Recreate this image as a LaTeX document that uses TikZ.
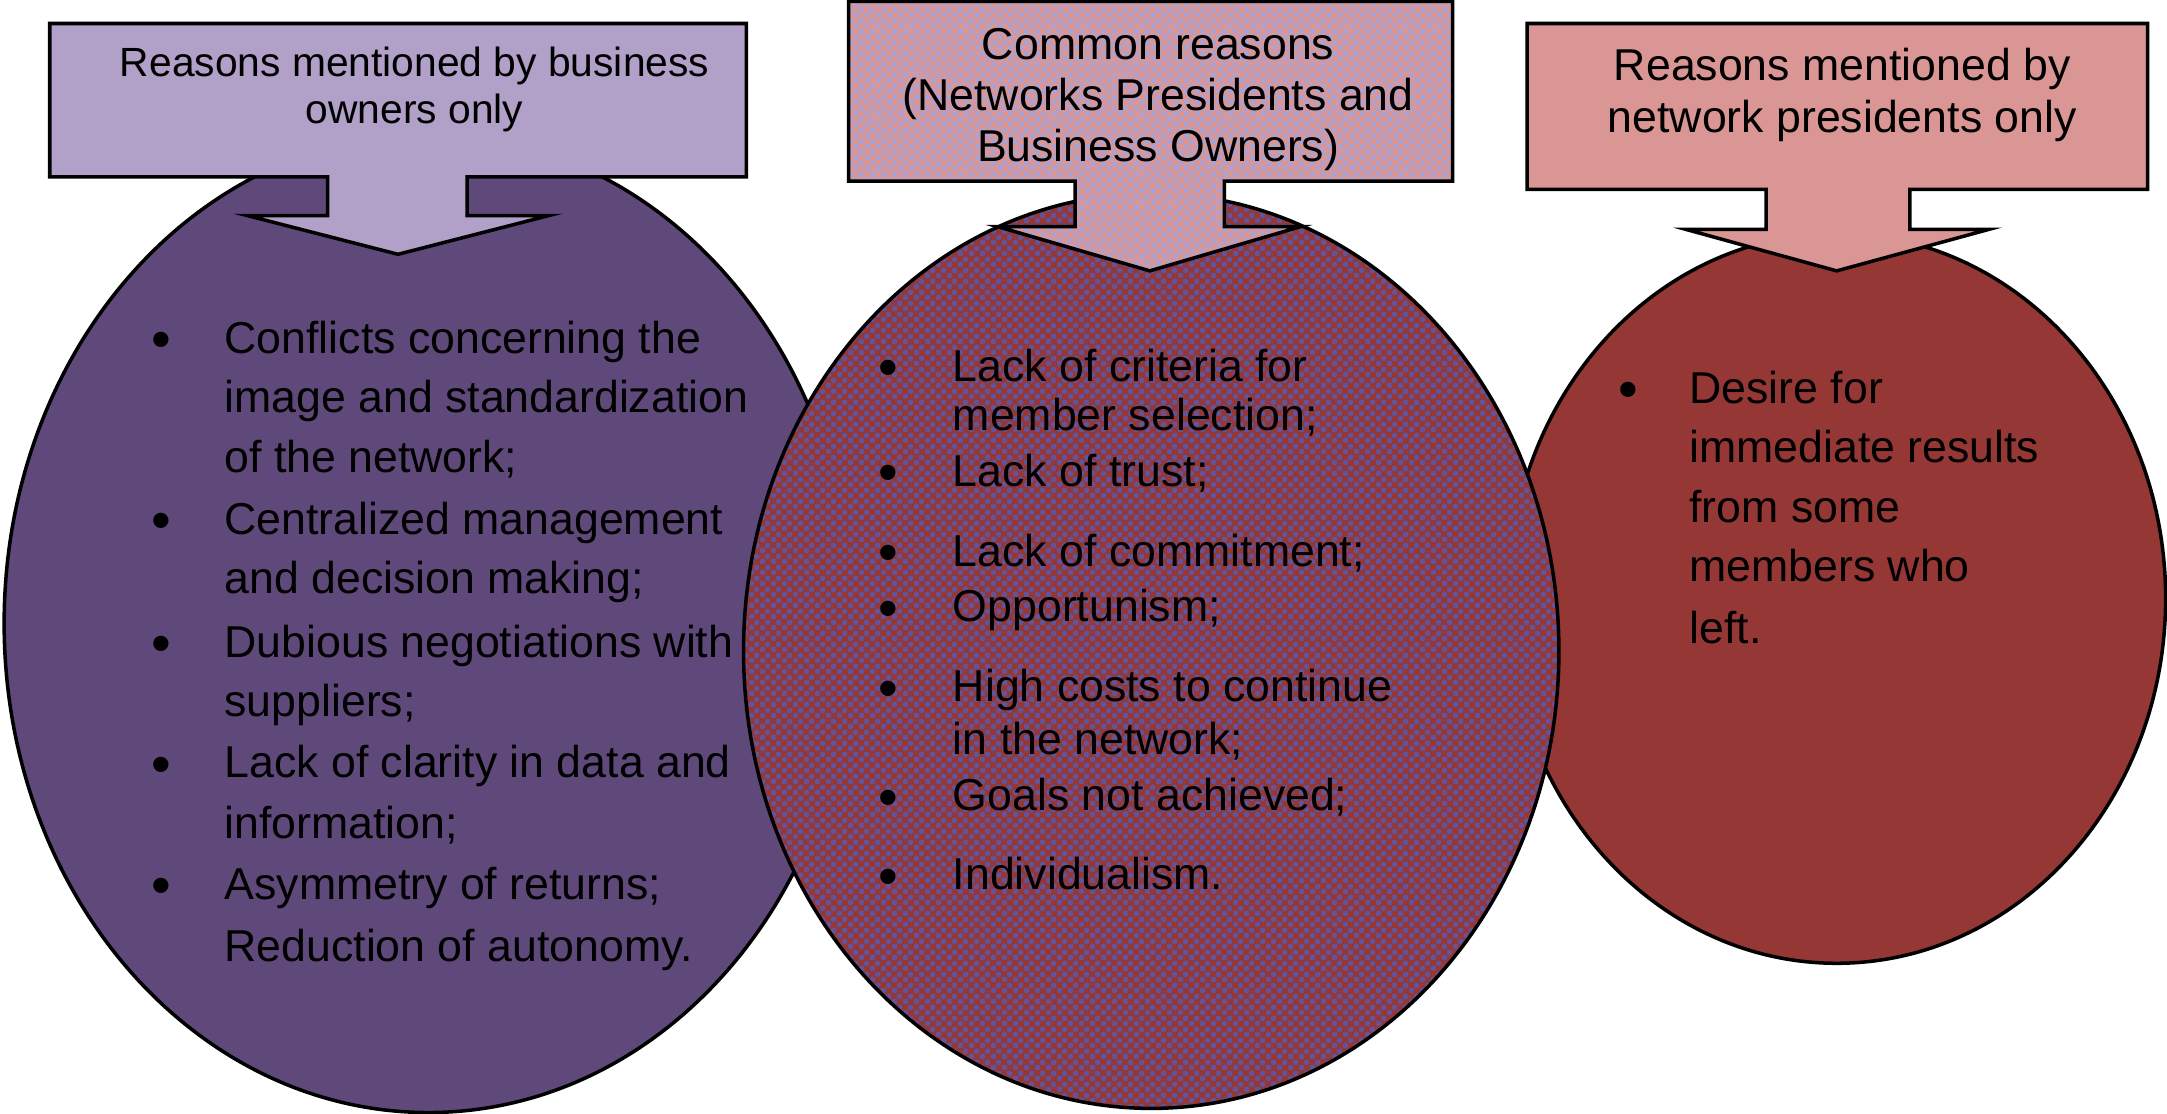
\documentclass[tikz,border=0pt]{standalone}
\usepackage{fontspec}
\setmainfont{Liberation Sans}
\usetikzlibrary{patterns}

\definecolor{lightpurple}{RGB}{177,160,199}
\definecolor{darkpurple}{RGB}{95,73,122}
\definecolor{lightred}{RGB}{217,150,148}
\definecolor{darkred}{RGB}{149,55,53}
\definecolor{dotblue}{RGB}{96,84,158}
\definecolor{dotlilac}{RGB}{170,162,212}

\pgfdeclarepatternformonly{meshdots}{\pgfpointorigin}{\pgfqpoint{3pt}{3pt}}{\pgfqpoint{3pt}{3pt}}{%
\pgfpathcircle{\pgfqpoint{0.75pt}{0.75pt}}{0.85pt}%
\pgfpathcircle{\pgfqpoint{2.25pt}{2.25pt}}{0.85pt}%
\pgfusepath{fill}}

\tikzset{
  shapeline/.style={draw=black, line width=1pt},
  headtext/.style={align=center, inner sep=0pt, font=\fontsize{12.7}{14.8}\selectfont},
  itemtext/.style={anchor=mid west, inner sep=0pt, font=\fontsize{12.7}{15}\selectfont},
  dotmark/.style={anchor=mid, inner sep=0pt, yshift=-0.55mm, font=\fontsize{16}{16}\selectfont},
}

\begin{document}
\begin{tikzpicture}[x=0.1382mm, y=-0.1382mm]
\useasboundingbox (0,0) rectangle (1568,806);

% circles
\draw[shapeline, fill=darkpurple] (310,451) ellipse [x radius=307, y radius=354];
\draw[shapeline, fill=darkred] (1329,433) ellipse [x radius=238, y radius=264];
\draw[shapeline, pattern=meshdots, pattern color=dotblue, preaction={fill=darkred}] (833,471) ellipse [x radius=295, y radius=331];

% arrows
\draw[shapeline, fill=lightpurple] (36,17) -- (540,17) -- (540,128) -- (338,128) -- (338,156) -- (397,156)
  -- (288,184) -- (179,156) -- (237,156) -- (237,128) -- (36,128) -- cycle;
\draw[shapeline, pattern=meshdots, pattern color=dotlilac, preaction={fill=lightred}] (614,1) -- (1051,1) -- (1051,131)
  -- (886,131) -- (886,164) -- (941,164) -- (832,196) -- (722,164) -- (778,164) -- (778,131) -- (614,131) -- cycle;
\draw[shapeline, fill=lightred] (1105,17) -- (1554,17) -- (1554,137) -- (1382,137) -- (1382,166) -- (1439,166)
  -- (1329,196) -- (1220,166) -- (1278,166) -- (1278,137) -- (1105,137) -- cycle;

% headings
\node[headtext, font=\fontsize{11.6}{13.4}\selectfont] (bizhead) at (300,65) {Reasons mentioned by business\\owners only};
\node[headtext, font=\fontsize{12.7}{14.6}\selectfont] (commonhead) at (838,72) {Common reasons\\(Networks Presidents and\\Business Owners)};
\node[headtext] (preshead) at (1333,69) {Reasons mentioned by\\network presidents only};

% business owners
\foreach \y/\t [count=\i] in {249/Conflicts concerning the, 292/image and standardization, 335/of the network;,
  380/Centralized management, 423/and decision making;, 469/Dubious negotiations with, 512/suppliers;,
  556/Lack of clarity in data and, 600/information;, 644/Asymmetry of returns;, 689/Reduction of autonomy.}
  \node[itemtext] (biz\i) at (162,\y) {\t};
\foreach \y [count=\i] in {249,380,469,556,644}
  \node[dotmark] (bizdot\i) at (117,\y) {\textbullet};

% common
\foreach \y/\t [count=\i] in {269/Lack of criteria for, 305/member selection;, 345/Lack of trust;, 403/Lack of commitment;,
  443/Opportunism;, 501/High costs to continue, 539/in the network;, 580/Goals not achieved;, 637/Individualism.}
  \node[itemtext] (com\i) at (689,\y) {\t};
\foreach \y [count=\i] in {269,345,403,443,501,580,637}
  \node[dotmark] (comdot\i) at (643,\y) {\textbullet};

% presidents
\foreach \y/\t [count=\i] in {285/Desire for, 328/immediate results, 371/from some, 414/members who, 459/left.}
  \node[itemtext] (pres\i) at (1222,\y) {\t};
\node[dotmark] (presdot1) at (1178,285) {\textbullet};

\end{tikzpicture}
\end{document}
